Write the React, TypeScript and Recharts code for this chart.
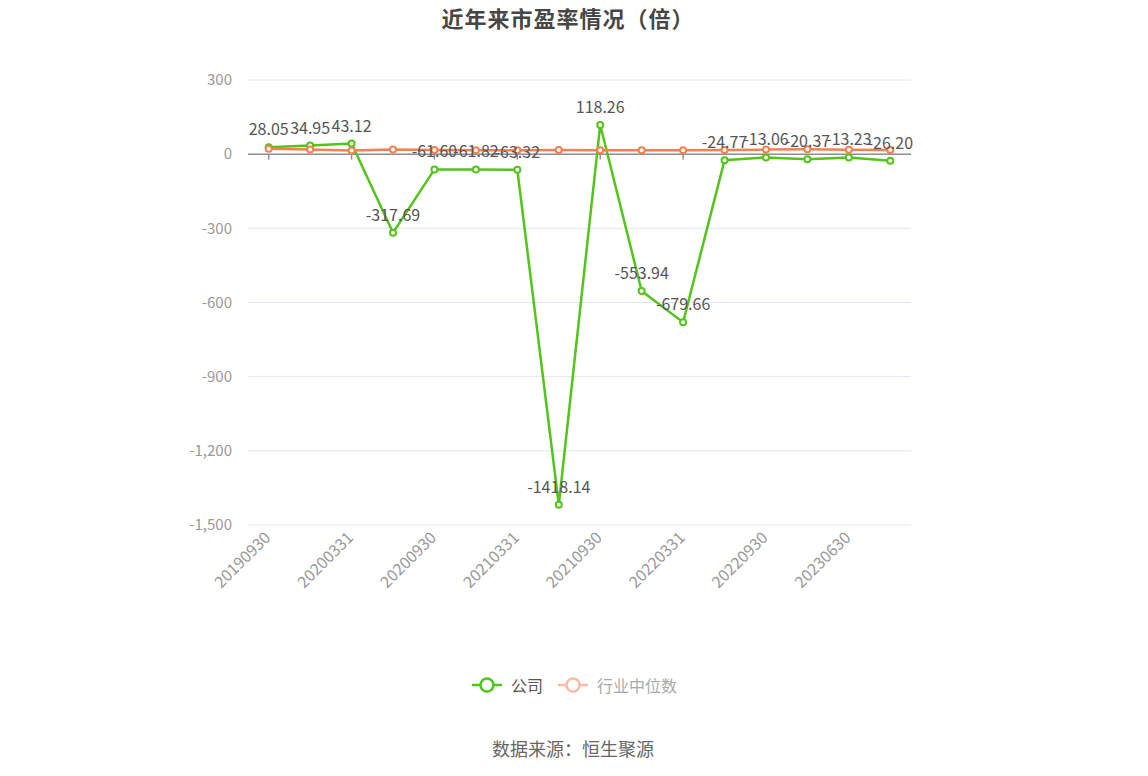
import React from 'react';
import {
  LineChart,
  Line,
  XAxis,
  YAxis,
  CartesianGrid,
  ReferenceLine,
  LabelList,
} from 'recharts';

// 报告期
const periods = [
  '20190930', '20191231', '20200331', '20200630', '20200930', '20201231',
  '20210331', '20210630', '20210930', '20211231', '20220331', '20220630',
  '20220930', '20221231', '20230630', '20230930',
];

// 公司市盈率
const companyPE = [
  28.05, 34.95, 43.12, -317.69, -61.6, -61.82, -63.32, -1418.14,
  118.26, -553.94, -679.66, -24.77, -13.06, -20.37, -13.23, -26.2,
];

// 行业中位数
const industryPE = [
  21.5, 19.2, 14.8, 18.6, 17.3, 15.9, 16.2, 17.1,
  15.8, 15.4, 16.0, 17.2, 18.4, 19.6, 18.1, 17.0,
];

const yTicks = [300, 0, -300, -600, -900, -1200, -1500];
const tickPeriods = periods.filter((_, i) => i % 2 === 0);

const GREEN = '#52c41a';
const ORANGE = '#f5804f';
const FONT = '"Noto Sans CJK SC", "Noto Sans", sans-serif';

const data = periods.map((p, i) => ({
  period: p,
  company: companyPE[i],
  industry: industryPE[i],
}));

function XTick(props: any) {
  const { x, y, payload } = props;
  return (
    <text
      x={x}
      y={y}
      transform={`rotate(-45, ${x}, ${y})`}
      textAnchor="end"
      dy={6}
      dx={-2}
      fill="#999"
      fontSize={16}
      fontFamily={FONT}
    >
      {payload.value}
    </text>
  );
}

function LegendIcon({ color }: { color: string }) {
  return (
    <svg width={32} height={18} style={{ verticalAlign: 'middle' }}>
      <line x1={1} y1={9} x2={31} y2={9} stroke={color} strokeWidth={2.5} />
      <circle cx={16} cy={9} r={6.5} fill="#fff" stroke={color} strokeWidth={2.5} />
    </svg>
  );
}

export default function App() {
  return (
    <div
      style={{
        position: 'absolute',
        left: 0,
        top: 0,
        width: 1148,
        height: 776,
        background: '#fff',
        fontFamily: FONT,
      }}
    >
      <div
        style={{
          position: 'absolute',
          top: 1,
          left: 0,
          width: 1136,
          textAlign: 'center',
          fontSize: 22,
          letterSpacing: 1,
          fontWeight: 'bold',
          color: '#464646',
        }}
      >
        近年来市盈率情况（倍）
      </div>
      <LineChart
        width={1148}
        height={776}
        data={data}
        margin={{ top: 80, right: 237, bottom: 171, left: 188 }}
      >
        <CartesianGrid vertical={false} stroke="#e0e6f1" />
        <XAxis
          dataKey="period"
          ticks={tickPeriods}
          interval={0}
          axisLine={false}
          tickLine={false}
          tick={<XTick />}
          padding={{ left: 20.7, right: 20.7 }}
          height={80}
        />
        <YAxis
          domain={[-1500, 300]}
          ticks={yTicks}
          interval={0}
          axisLine={false}
          tickLine={false}
          width={60}
          tickMargin={10}
          tick={{ fill: '#999', fontSize: 15, fontFamily: FONT }}
          tickFormatter={(v: number) => v.toLocaleString('en-US')}
        />
        <ReferenceLine y={0} stroke="#8b8f9a" strokeWidth={1.5} />
        {tickPeriods.map((p) => (
          <ReferenceLine
            key={p}
            segment={[
              { x: p, y: 0 },
              { x: p, y: -22 },
            ]}
            stroke="#8b8f9a"
            strokeWidth={1.5}
          />
        ))}
        <Line
          type="linear"
          dataKey="company"
          stroke={GREEN}
          strokeWidth={2.5}
          dot={{ r: 3, fill: '#fff', stroke: GREEN, strokeWidth: 2 }}
          isAnimationActive={false}
        />
        <Line
          type="linear"
          dataKey="industry"
          stroke={ORANGE}
          strokeWidth={2.5}
          dot={{ r: 3, fill: '#fff', stroke: ORANGE, strokeWidth: 2 }}
          isAnimationActive={false}
        />
        {/* labels drawn last so they sit above both lines */}
        <Line
          type="linear"
          dataKey="company"
          stroke="none"
          dot={false}
          activeDot={false}
          legendType="none"
          isAnimationActive={false}
        >
          <LabelList
            dataKey="company"
            position="top"
            offset={12}
            fill="#555"
            fontSize={16}
            fontFamily={FONT}
            formatter={(v: number) => v.toFixed(2)}
          />
        </Line>
      </LineChart>
      <div
        style={{
          position: 'absolute',
          top: 673,
          left: 0,
          width: 1148,
          display: 'flex',
          justifyContent: 'center',
          alignItems: 'center',
          fontSize: 16,
        }}
      >
        <div style={{ display: 'flex', alignItems: 'center', marginLeft: 0 }}>
          <LegendIcon color={GREEN} />
          <span style={{ color: '#555', marginLeft: 8 }}>公司</span>
        </div>
        <div style={{ display: 'flex', alignItems: 'center', marginLeft: 14 }}>
          <LegendIcon color="#fdbba3" />
          <span style={{ color: '#aaa', marginLeft: 8 }}>行业中位数</span>
        </div>
      </div>
      <div
        style={{
          position: 'absolute',
          top: 735,
          left: 0,
          width: 1146,
          textAlign: 'center',
          fontSize: 18,
          color: '#666',
        }}
      >
        数据来源：恒生聚源
      </div>
    </div>
  );
}
